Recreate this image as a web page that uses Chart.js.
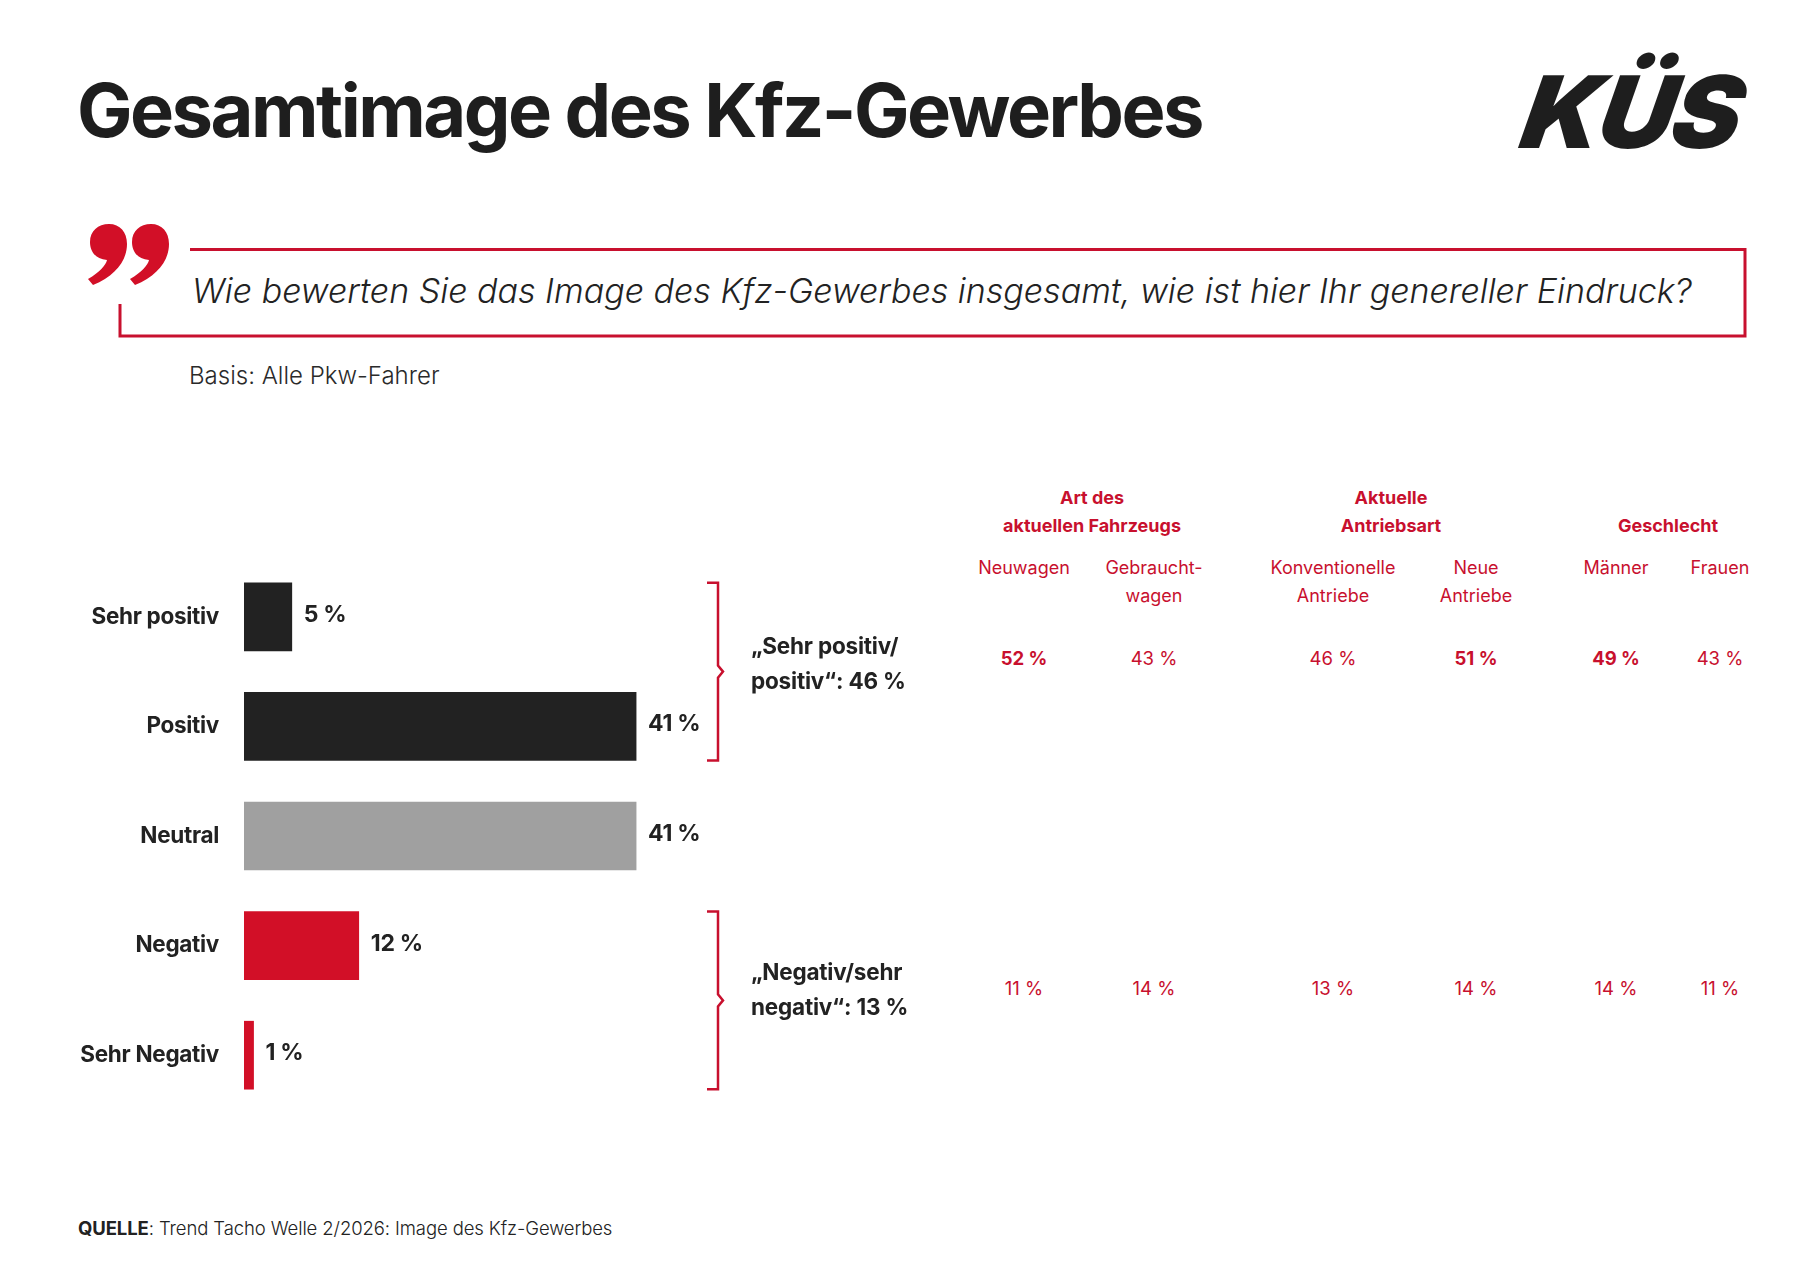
<!DOCTYPE html>
<html lang="de">
<head>
<meta charset="utf-8">
<title>Gesamtimage des Kfz-Gewerbes</title>
<script src="https://cdn.jsdelivr.net/npm/chart.js@4.4.1/dist/chart.umd.min.js"></script>
<style>
  html, body { margin: 0; padding: 0; background: #fff; }
  body { font-family: Inter, "Noto Sans", sans-serif; color: #222; }
  #page { position: relative; width: 1800px; height: 1272px; overflow: hidden; }
  .abs { position: absolute; white-space: nowrap; }
  #title { left: 77px; top: 70px; font-size: 74px; line-height: 80px; font-weight: 700; letter-spacing: -2.5px; color: #1e1e1e; }
  #logo { left: 1524px; top: 62px; font-size: 100px; line-height: 100px; font-weight: 900; font-style: italic; letter-spacing: -2px; color: #1e1e1e; transform-origin: left center; transform: skewX(-10deg) scale(1.04, 1); }
  #question { left: 192px; top: 271px; font-size: 34px; line-height: 40px; font-weight: 300; font-style: italic; color: #222; }
  #basis { left: 189px; top: 361px; font-size: 24px; line-height: 30px; font-weight: 300; color: #2a2a2a; }
  #source { left: 78px; top: 1216px; font-size: 18.5px; line-height: 24px; font-weight: 300; letter-spacing: -0.1px; color: #222; }
  #source b { font-weight: 700; }
  .group { font-size: 22.5px; line-height: 35px; font-weight: 700; letter-spacing: -0.2px; color: #222; }
  .tbl { text-align: center; color: #c8102e; width: 240px; margin-left: -120px; }
  .tbl.head { font-size: 18px; line-height: 28px; font-weight: 700; }
  .tbl.sub { font-size: 18px; line-height: 28px; font-weight: 400; }
  .tbl.val { font-size: 18.5px; line-height: 28px; font-weight: 400; }
  .tbl.val.strong { font-weight: 700; }
  #chartBox { position: absolute; left: 0; top: 562px; width: 770px; height: 548px; }
</style>
</head>
<body>
<div id="page">
  <div id="title" class="abs">Gesamtimage des Kfz-Gewerbes</div>
  <div id="logo" class="abs">KÜS</div>

  <svg class="abs" style="left:0;top:0" width="1800" height="400">
    <g fill="#d20f27">
      <path transform="translate(85,224)" d="M24 0 C35 0 42 8 42 20 C42 37 30 52 8 61 L3 55 C15 48 21 41 22 36 C10 35 5 27 5 18 C5 7 13 0 24 0 Z"/>
      <path transform="translate(127,224)" d="M24 0 C35 0 42 8 42 20 C42 37 30 52 8 61 L3 55 C15 48 21 41 22 36 C10 35 5 27 5 18 C5 7 13 0 24 0 Z"/>
    </g>
    <path d="M190 249.5 H1745 V336 H120 V304" fill="none" stroke="#c8102e" stroke-width="3"/>
  </svg>

  <div id="question" class="abs">Wie bewerten Sie das Image des Kfz-Gewerbes insgesamt, wie ist hier Ihr genereller Eindruck?</div>
  <div id="basis" class="abs">Basis: Alle Pkw-Fahrer</div>

  <div id="chartBox"><canvas id="chart"></canvas></div>

  <div id="source" class="abs"><b>QUELLE</b>: Trend Tacho Welle 2/2026: Image des Kfz-Gewerbes</div>
</div>

<script>
// Antwortkategorien und Anteile (in %)
const categories = ['Sehr positiv', 'Positiv', 'Neutral', 'Negativ', 'Sehr Negativ'];
const shares = [5, 41, 41, 12, 1];
const barColors = ['#222222', '#222222', '#a0a0a0', '#d20f27', '#d20f27'];

// Zusammenfassungen (Top-2 / Bottom-2)
const summaryLabels = [['„Sehr positiv/', 'positiv“: '], ['„Negativ/sehr', 'negativ“: ']];
const summaryValues = [46, 13];
const summaryRanges = [[0, 1], [3, 4]];

// Untergruppen rechts
const groupHeads = [['Art des', 'aktuellen Fahrzeugs'], ['Aktuelle', 'Antriebsart'], ['', 'Geschlecht']];
const subGroups = [['Neuwagen'], ['Gebraucht-', 'wagen'], ['Konventionelle', 'Antriebe'], ['Neue', 'Antriebe'], ['Männer'], ['Frauen']];
const positiveBySub = [52, 43, 46, 51, 49, 43];
const positiveBold = [true, false, false, true, true, false];
const negativeBySub = [11, 14, 13, 14, 14, 11];

const pct = v => v + ' %';
const page = document.getElementById('page');

function addText(cls, left, top, html) {
  const d = document.createElement('div');
  d.className = 'abs ' + cls;
  d.style.left = left + 'px';
  d.style.top = top + 'px';
  d.innerHTML = html;
  page.appendChild(d);
  return d;
}

// Tabelle rechts
const groupX = [1092, 1391, 1668];
const subX = [1024, 1154, 1333, 1476, 1616, 1720];
groupHeads.forEach((lines, i) => addText('tbl head', groupX[i], 484, lines.map(l => l || '&nbsp;').join('<br>')));
subGroups.forEach((lines, i) => addText('tbl sub', subX[i], 554, lines.join('<br>')));
positiveBySub.forEach((v, i) => addText('tbl val' + (positiveBold[i] ? ' strong' : ''), subX[i], 644, pct(v)));
negativeBySub.forEach((v, i) => addText('tbl val', subX[i], 974, pct(v)));

// Zusammenfassungstexte
const summaryTop = [628, 954];
summaryLabels.forEach((lines, i) => addText('group', 751, summaryTop[i], lines[0] + '<br>' + lines[1] + pct(summaryValues[i])));

const BAR_H = 68;

// etwas engere Laufweite wie im Original
const tightText = {
  id: 'tightText',
  beforeDraw(chart) { chart.ctx.letterSpacing = '-0.3px'; }
};

const valueLabels = {
  id: 'valueLabels',
  afterDatasetsDraw(chart) {
    const ctx = chart.ctx;
    const meta = chart.getDatasetMeta(0);
    ctx.save();
    ctx.font = '700 23px Inter, "Noto Sans", sans-serif';
    ctx.fillStyle = '#222';
    ctx.textAlign = 'left';
    ctx.textBaseline = 'middle';
    meta.data.forEach((bar, i) => {
      ctx.fillText(pct(shares[i]), bar.x + 12, bar.y - 2);
    });
    ctx.restore();
  }
};

const brackets = {
  id: 'brackets',
  afterDraw(chart) {
    const ctx = chart.ctx;
    const meta = chart.getDatasetMeta(0);
    const x = 718;
    ctx.save();
    ctx.strokeStyle = '#c8102e';
    ctx.lineWidth = 2.5;
    summaryRanges.forEach(([a, b]) => {
      const top = meta.data[a].y - BAR_H / 2;
      const bottom = meta.data[b].y + BAR_H / 2;
      const mid = (top + bottom) / 2;
      ctx.beginPath();
      ctx.moveTo(x - 11, top);
      ctx.lineTo(x, top);
      ctx.lineTo(x, mid - 6);
      ctx.lineTo(x + 5, mid);
      ctx.lineTo(x, mid + 6);
      ctx.lineTo(x, bottom);
      ctx.lineTo(x - 11, bottom);
      ctx.stroke();
    });
    ctx.restore();
  }
};

new Chart(document.getElementById('chart'), {
  type: 'bar',
  data: {
    labels: categories,
    datasets: [{
      data: shares,
      backgroundColor: barColors,
      borderWidth: 0,
      barThickness: BAR_H
    }]
  },
  options: {
    indexAxis: 'y',
    responsive: true,
    maintainAspectRatio: false,
    animation: false,
    layout: { padding: 0 },
    plugins: { legend: { display: false }, tooltip: { enabled: false } },
    scales: {
      x: { min: 0, max: 55, display: false },
      y: {
        afterFit: s => { s.width = 244; s.paddingTop = 0; s.paddingBottom = 0; },
        grid: { display: false, drawTicks: false },
        border: { display: false },
        ticks: {
          padding: 25,
          color: '#222',
          font: { family: 'Inter, "Noto Sans", sans-serif', size: 22.5, weight: '700' }
        }
      }
    }
  },
  plugins: [tightText, valueLabels, brackets]
});
</script>
</body>
</html>
